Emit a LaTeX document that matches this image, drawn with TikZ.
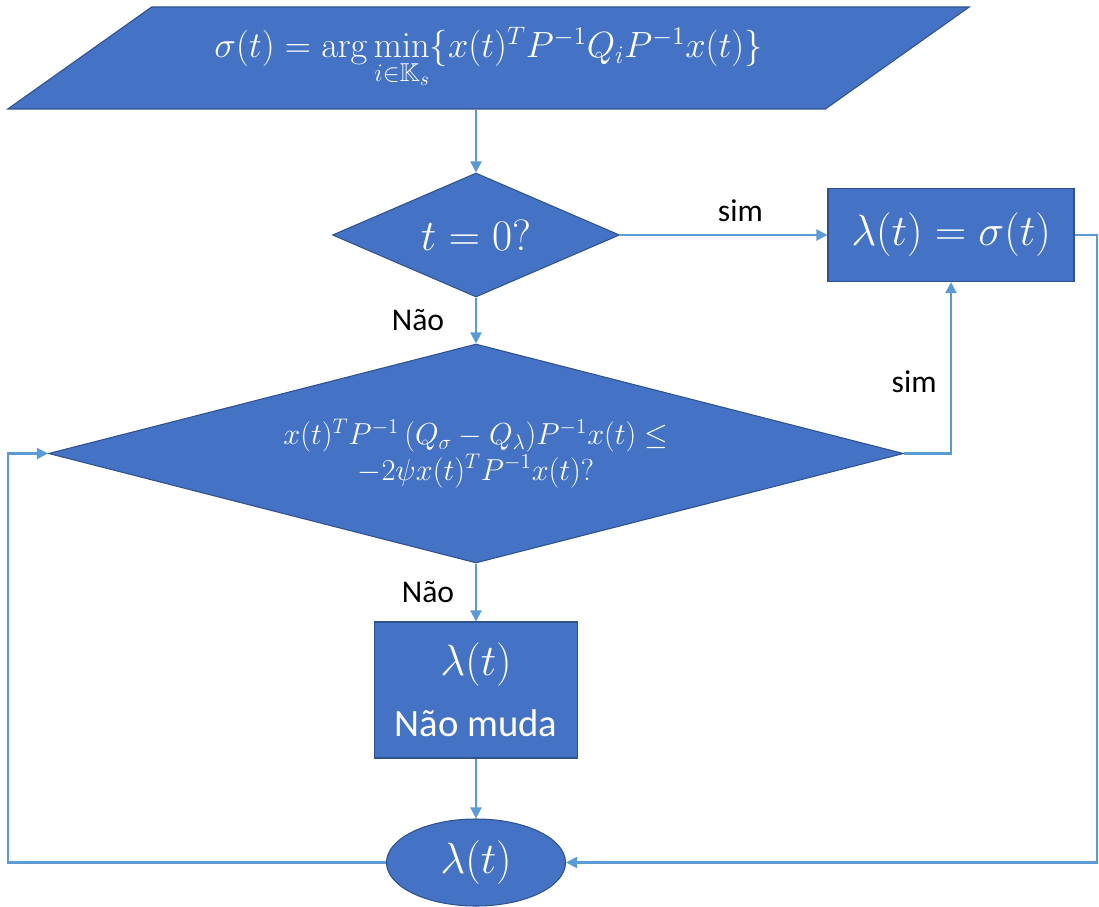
\documentclass[tikz,border=0pt]{standalone}
\usepackage{amsmath}
\usepackage{amssymb}
\usepackage[no-math]{fontspec}
\setmainfont{Carlito}
\usepackage{tikz}
\usetikzlibrary{positioning}
\usetikzlibrary{shapes.geometric}
\usetikzlibrary{arrows.meta}
\usepackage{xcolor}
\definecolor{boxblue}{HTML}{4472C4}
\definecolor{edgeblue}{HTML}{2F528F}
\definecolor{lineblue}{HTML}{5B9BD5}

\begin{document}
\begin{tikzpicture}[on grid,>={Triangle[length=0.22cm,width=0.22cm]},
        blk/.style={draw=edgeblue,line width=0.6pt,fill=boxblue,text=white,inner sep=0pt},
        io/.style={blk,trapezium,trapezium left angle=27.9,trapezium right angle=152.1,trapezium stretches=true,minimum width=19.26cm,minimum height=2.04cm},
        decision/.style={blk,diamond},
        proc/.style={blk,rectangle,align=center},
        term/.style={blk,ellipse,minimum width=3.58cm,minimum height=1.74cm},
        flow/.style={draw=lineblue,line width=1.2pt,->},
        lbl/.style={font=\fontsize{18}{21}\selectfont,text=black}]
        \useasboundingbox (0,0) rectangle (21.98,-18.14);
        \node[io,font=\fontsize{21}{25}\selectfont] (in) at (9.77,-1.16) {$\sigma(t) = \arg\min\limits_{i\in\mathbb{K}_s}\{x(t)^T P^{-1} Q_i P^{-1} x(t)\}$};
        \node[decision,aspect=2.3,minimum width=5.74cm,minimum height=2.48cm,font=\fontsize{23}{27}\selectfont] (t0) at (9.52,-4.70) {$t = 0?$};
        \node[proc,minimum width=4.92cm,minimum height=1.86cm,font=\fontsize{25}{30}\selectfont] (set) [right=9.5cm of t0] {$\lambda(t) = \sigma(t)$};
        \node[decision,aspect=3.9,minimum width=17.1cm,minimum height=4.38cm,align=center,font=\fontsize{17}{20}\selectfont] (cond) [below=4.37cm of t0] {$x(t)^T P^{-1}\,(Q_\sigma - Q_\lambda)P^{-1}x(t) \le$\\$-2\psi x(t)^T P^{-1} x(t)?$};
        \node[proc,minimum width=4.06cm,minimum height=2.72cm,font=\fontsize{22}{26}\selectfont] (keep) [below=4.73cm of cond] {{\fontsize{26}{30}\selectfont$\lambda(t)$}\\[0.3cm]Não muda};
        \node[term,font=\fontsize{26}{30}\selectfont] (out) [below=3.45cm of keep] {$\lambda(t)$};
        \coordinate (lx) at (0.16,0);
        \coordinate (rx) at (21.94,0);
        \draw[flow] (in.south -| t0) -- (t0.north);
        \draw[flow] (t0.east) -- node[lbl,above=0.12cm,pos=0.58] {sim} (set.west);
        \draw[flow] (t0.south) -- node[lbl,left=0.5cm,pos=0.5] {Não} (cond.north);
        \draw[flow] (cond.east) -| node[lbl,left=0.15cm,pos=0.71] {sim} (set.south);
        \draw[flow] (cond.south) -- node[lbl,left=0.3cm,pos=0.5] {Não} (keep.north);
        \draw[flow] (keep.south) -- (out.north);
        \draw[flow] (out.west) -- (out.west -| lx) |- (cond.west);
        \draw[flow] (set.east) -- (set.east -| rx) |- (out.east);
      \end{tikzpicture}
\end{document}
